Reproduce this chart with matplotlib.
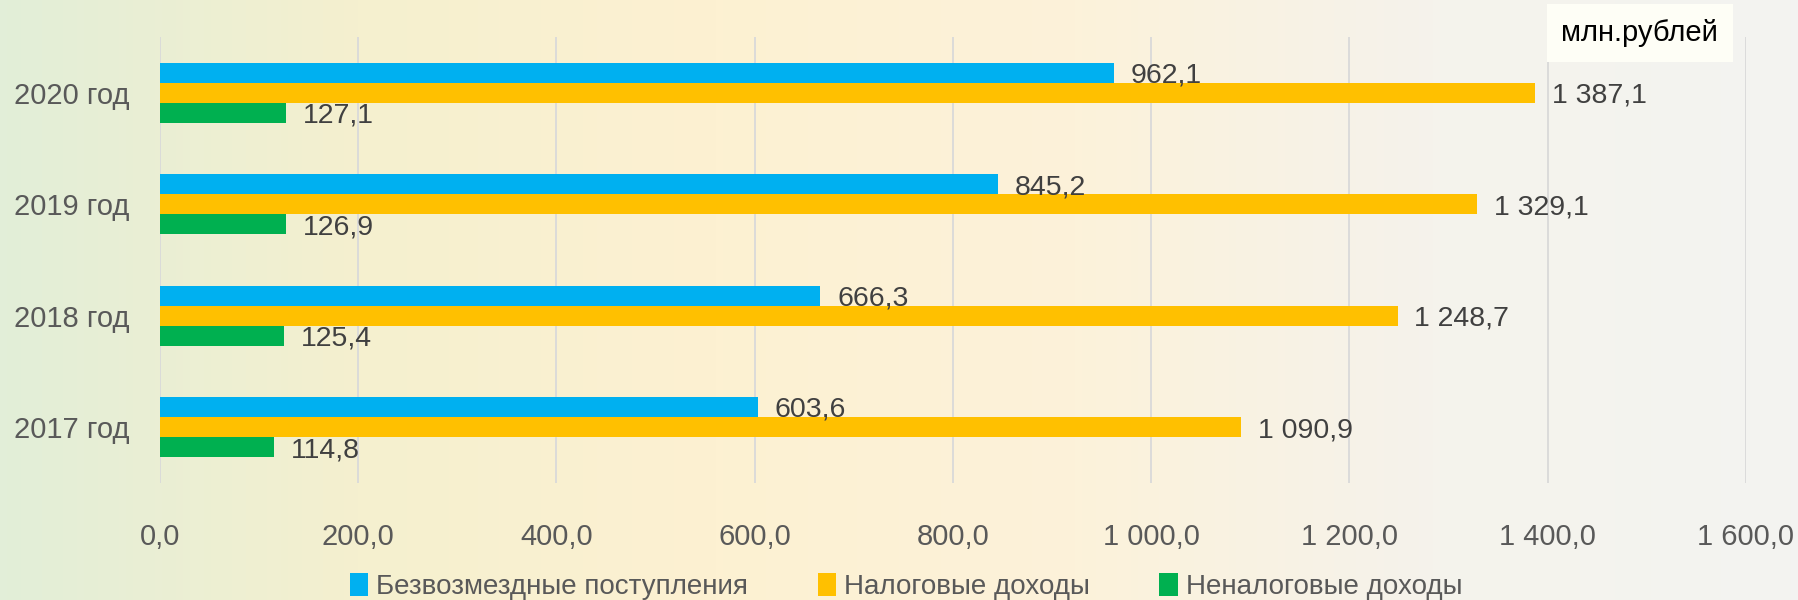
import matplotlib.pyplot as plt
import numpy as np
from matplotlib.colors import LinearSegmentedColormap

# Данные (млн. рублей)
years = ['2017 год', '2018 год', '2019 год', '2020 год']
bezvozm = [603.6, 666.3, 845.2, 962.1]     # Безвозмездные поступления
nalog = [1090.9, 1248.7, 1329.1, 1387.1]   # Налоговые доходы
nenalog = [114.8, 125.4, 126.9, 127.1]     # Неналоговые доходы
names = ['Безвозмездные поступления', 'Налоговые доходы', 'Неналоговые доходы']
colors = ['#00b0f0', '#ffc000', '#00b050']
xticks = np.arange(0, 1601, 200)


def ru(v):
    s = f'{v:,.1f}'
    return s.replace(',', ' ').replace('.', ',')


plt.rcParams['font.family'] = ['Liberation Sans', 'DejaVu Sans']

fig = plt.figure(figsize=(17.98, 6), dpi=100)

# фон: горизонтальный градиент
bg = fig.add_axes([0, 0, 1, 1], zorder=-10)
cmap = LinearSegmentedColormap.from_list(
    'bg', ['#e2eed8', '#f5f0cf', '#fdf1d2', '#fcf2da', '#f5f3ec', '#f3f3f1'])
bg.imshow(np.linspace(0, 1, 256)[None, :], aspect='auto', cmap=cmap,
          extent=[0, 1, 0, 1])
bg.axis('off')

ax = fig.add_axes([0.089, 0.195, 0.882, 0.743])
ax.set_facecolor('none')

y = np.arange(len(years))
h = 0.18
series = [bezvozm, nalog, nenalog]
for i, (vals, c, nm) in enumerate(zip(series, colors, names)):
    pos = y + h - i * h
    ax.barh(pos, vals, height=h, color=c, label=nm, zorder=3)
    for p, v in zip(pos, vals):
        ax.annotate(ru(v), (v, p), xytext=(12, -2), textcoords='offset points',
                    va='center', ha='left', fontsize=20.5, color='#404040', zorder=4)

ax.set_xlim(0, 1600)
ax.set_ylim(-0.5, 3.5)
ax.set_xticks(xticks)
ax.set_xticklabels([ru(t) for t in xticks])
ax.set_yticks(y)
ax.set_yticklabels(years)
ax.tick_params(axis='x', length=0, pad=29, labelsize=21, labelcolor='#595959')
ax.tick_params(axis='y', length=0, pad=22, labelsize=21, labelcolor='#595959')
ax.grid(axis='x', color='#d9d9d9', linewidth=1.3, zorder=0)
for s in ax.spines.values():
    s.set_visible(False)

fig.legend(loc='center', bbox_to_anchor=(0.504, 0.023), ncol=3, frameon=False,
           fontsize=20, handlelength=0.65, handleheight=0.9, handletextpad=0.3,
           columnspacing=2.5, labelcolor='#595959')

fig.text(0.912, 0.945, 'млн.рублей', ha='center', va='center', fontsize=21,
         color='black',
         bbox=dict(boxstyle='square,pad=0.5', fc='#fefef6', ec='none'))

fig.savefig('out.png', dpi=100)
